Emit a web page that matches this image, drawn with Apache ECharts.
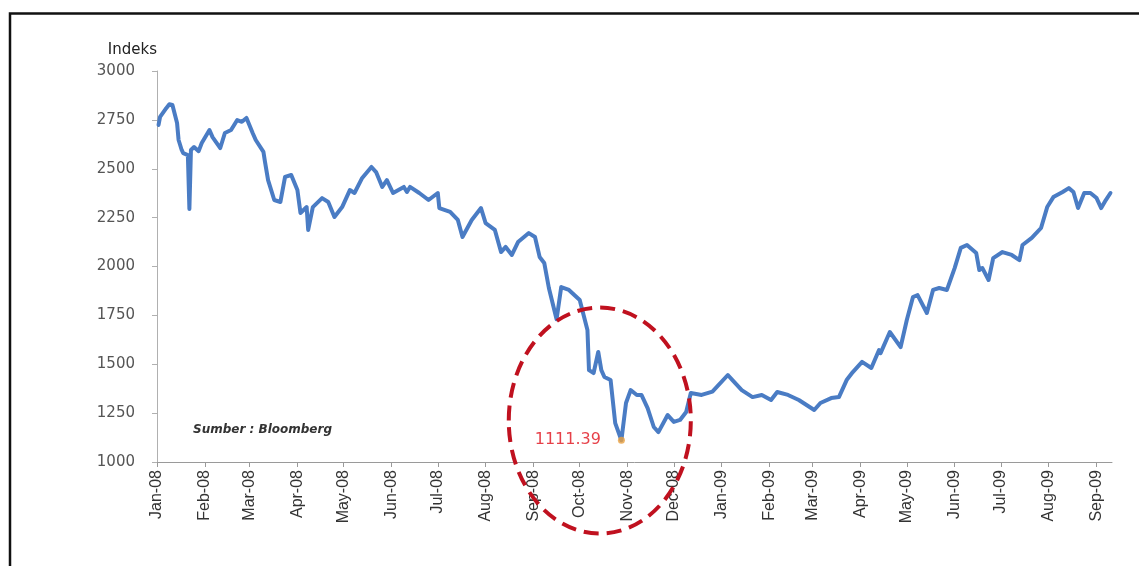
<!DOCTYPE html>
<html>
<head>
<meta charset="utf-8">
<title>Indeks</title>
<script src="https://cdn.jsdelivr.net/npm/echarts@6/dist/echarts.min.js"></script>
<style>
  html, body { margin: 0; padding: 0; background: #fff; }
  #chart { width: 1139px; height: 566px; }
</style>
</head>
<body>
<div id="chart"></div>
<script>
// Composite index, daily closes sampled (Jan 2008 - Sep 2009)
const dates = [
  '2008-01-02','2008-01-03','2008-01-07','2008-01-09','2008-01-11','2008-01-14','2008-01-15','2008-01-17','2008-01-18','2008-01-21',
  '2008-01-22','2008-01-23','2008-01-25','2008-01-28','2008-01-30','2008-02-04','2008-02-06','2008-02-11','2008-02-14','2008-02-18',
  '2008-02-22','2008-02-25','2008-02-28','2008-03-03','2008-03-05','2008-03-10','2008-03-11','2008-03-13','2008-03-17','2008-03-21',
  '2008-03-24','2008-03-28','2008-04-01','2008-04-03','2008-04-07','2008-04-08','2008-04-11','2008-04-17','2008-04-21','2008-04-25',
  '2008-04-30','2008-05-05','2008-05-08','2008-05-13','2008-05-19','2008-05-22','2008-05-26','2008-05-29','2008-06-02','2008-06-09',
  '2008-06-11','2008-06-13','2008-06-19','2008-06-25','2008-07-01','2008-07-02','2008-07-09','2008-07-14','2008-07-17','2008-07-23',
  '2008-07-29','2008-08-01','2008-08-07','2008-08-11','2008-08-14','2008-08-18','2008-08-22','2008-08-29','2008-09-02','2008-09-05',
  '2008-09-08','2008-09-11','2008-09-16','2008-09-19','2008-09-24','2008-10-01','2008-10-06','2008-10-07','2008-10-10','2008-10-13',
  '2008-10-15','2008-10-17','2008-10-21','2008-10-24','2008-10-28','2008-10-31','2008-11-03','2008-11-07','2008-11-10','2008-11-14',
  '2008-11-18','2008-11-21','2008-11-27','2008-12-01','2008-12-05','2008-12-09','2008-12-12','2008-12-19','2008-12-26','2009-01-05',
  '2009-01-08','2009-01-14','2009-01-21','2009-01-27','2009-02-02','2009-02-06','2009-02-13','2009-02-20','2009-03-02','2009-03-06',
  '2009-03-13','2009-03-18','2009-03-23','2009-03-27','2009-04-02','2009-04-08','2009-04-13','2009-04-14','2009-04-20','2009-04-27',
  '2009-05-01','2009-05-05','2009-05-08','2009-05-14','2009-05-18','2009-05-22','2009-05-27','2009-06-01','2009-06-05','2009-06-09',
  '2009-06-15','2009-06-17','2009-06-19','2009-06-23','2009-06-26','2009-07-02','2009-07-08','2009-07-13','2009-07-15','2009-07-21',
  '2009-07-27','2009-07-31','2009-08-04','2009-08-10','2009-08-14','2009-08-17','2009-08-20','2009-08-24','2009-08-28','2009-09-01',
  '2009-09-04','2009-09-07','2009-09-10'
];
const closes = [
  2724,2765,2810,2830,2826,2734,2647,2596,2580,2570,
  2294,2596,2611,2590,2632,2698,2662,2606,2683,2698,
  2749,2740,2760,2683,2647,2586,2535,2442,2340,2330,
  2458,2468,2391,2274,2304,2187,2304,2350,2330,2253,
  2304,2391,2376,2453,2509,2483,2407,2442,2376,2407,
  2381,2407,2376,2340,2376,2299,2279,2238,2151,2238,
  2299,2222,2187,2074,2100,2059,2125,2171,2151,2049,
  2018,1890,1730,1895,1880,1829,1675,1470,1455,1563,
  1470,1435,1419,1199,1111.39,1302,1368,1343,1343,1276,
  1179,1153,1240,1205,1215,1256,1353,1343,1360,1445,
  1419,1368,1332,1343,1317,1358,1343,1317,1266,1302,
  1327,1332,1419,1460,1512,1481,1573,1557,1665,1588,
  1726,1844,1854,1762,1880,1890,1880,1992,2095,2110,
  2069,1982,1992,1931,2043,2074,2059,2033,2110,2146,
  2197,2304,2355,2381,2401,2381,2299,2376,2376,2350,
  2299,2340,2376
];

// Lowest close, labelled on the chart
const lowDate = '2008-10-28';
const lowValue = 1111.39;

// Month ticks along the date axis
const tickDates = [
  '2008-01-01','2008-02-01','2008-03-01','2008-04-01','2008-05-01','2008-06-01','2008-07-01',
  '2008-08-01','2008-09-01','2008-10-01','2008-11-01','2008-12-01','2009-01-01','2009-02-01',
  '2009-03-01','2009-04-01','2009-05-01','2009-06-01','2009-07-01','2009-08-01','2009-09-01'
];
const tickLabels = [
  'Jan-08','Feb-08','Mar-08','Apr-08','May-08','Jun-08','Jul-08',
  'Aug-08','Sep-08','Oct-08','Nov-08','Dec-08','Jan-09','Feb-09',
  'Mar-09','Apr-09','May-09','Jun-09','Jul-09','Aug-09','Sep-09'
];
const yTicks = [1000, 1250, 1500, 1750, 2000, 2250, 2500, 2750, 3000];

const axisStart = '2008-01-01';
const axisEnd = '2009-09-11';

// Crisis ring: centre and half-extents in data terms
const ringCenterDate = '2008-10-14';
const ringCenterValue = 1212;
const ringHalfDays = 59;
const ringHalfValue = 578;

// Dates become day numbers counted from the first axis day
const DAY = 86400000;
const origin = Date.UTC(2008, 0, 1);
function dayNo(s) {
  const p = s.split('-').map(Number);
  return Math.round((Date.UTC(p[0], p[1] - 1, p[2]) - origin) / DAY);
}
const tickDays = tickDates.map(dayNo);
const lineData = dates.map((d, i) => [dayNo(d), closes[i]]);

const chart = echarts.init(document.getElementById('chart'), null, { renderer: 'canvas' });

const option = {
  backgroundColor: '#ffffff',
  animation: false,
  grid: { left: 157, right: 27, top: 71, bottom: 104, outerBoundsMode: 'none' },
  xAxis: {
    type: 'value',
    min: dayNo(axisStart),
    max: dayNo(axisEnd),
    axisLine: { show: true, onZero: false, lineStyle: { color: '#9a9a9a', width: 1 } },
    axisTick: { show: true, length: 5, lineStyle: { color: '#9a9a9a' }, customValues: tickDays },
    splitLine: { show: false },
    axisLabel: {
      customValues: tickDays,
      rotate: 90,
      margin: 8,
      fontFamily: 'Liberation Sans',
      fontSize: 16,
      color: '#333',
      formatter: function (v) {
        const i = tickDays.indexOf(v);
        return i >= 0 ? tickLabels[i] : '';
      }
    }
  },
  yAxis: {
    type: 'value',
    min: yTicks[0],
    max: yTicks[yTicks.length - 1],
    interval: 250,
    name: 'Indeks',
    nameLocation: 'end',
    nameGap: 13,
    nameTextStyle: {
      align: 'right',
      fontFamily: 'DejaVu Sans',
      fontSize: 15,
      color: '#222'
    },
    axisLine: { show: true, lineStyle: { color: '#b0b0b0', width: 1 } },
    axisTick: { show: true, length: 5, inside: false, lineStyle: { color: '#b0b0b0' } },
    splitLine: { show: false },
    axisLabel: {
      margin: 22,
      fontFamily: 'DejaVu Sans',
      fontSize: 15,
      color: '#555',
      formatter: function (v) { return String(v); }
    }
  },
  series: [
    {
      name: 'Indeks',
      type: 'line',
      data: lineData,
      showSymbol: false,
      symbol: 'none',
      lineStyle: { color: '#4A7CC4', width: 4, join: 'round', cap: 'round' },
      z: 3
    },
    {
      name: 'Terendah',
      type: 'scatter',
      data: [[dayNo(lowDate), lowValue]],
      symbol: 'circle',
      symbolSize: 7,
      itemStyle: { color: '#E8A040' },
      label: {
        show: true,
        position: 'left',
        distance: 17,
        fontFamily: 'DejaVu Sans',
        fontSize: 16,
        color: '#E0101A',
        formatter: function (p) { return p.value[1].toFixed(2); }
      },
      z: 4
    }
  ]
};
chart.setOption(option);

// Frame, source note and dashed ring placed after layout
const c = chart.convertToPixel({ gridIndex: 0 }, [dayNo(ringCenterDate), ringCenterValue]);
const e = chart.convertToPixel({ gridIndex: 0 }, [dayNo(ringCenterDate) + ringHalfDays, ringCenterValue + ringHalfValue]);
const rx = Math.abs(e[0] - c[0]);
const ry = Math.abs(c[1] - e[1]);

chart.setOption({
  graphic: [
    {
      type: 'rect',
      shape: { x: 10, y: 13.5, width: 1200, height: 600 },
      style: { fill: 'none', stroke: '#111', lineWidth: 2.5 },
      silent: true,
      z: 10
    },
    {
      type: 'text',
      left: 193,
      top: 424,
      style: {
        text: 'Sumber : Bloomberg',
        fontFamily: 'DejaVu Sans',
        fontStyle: 'italic',
        fontWeight: 'bold',
        fontSize: 12,
        fill: '#333'
      },
      z: 10
    },
    {
      type: 'ellipse',
      shape: { cx: c[0], cy: c[1], rx: rx, ry: ry },
      style: { fill: 'none', stroke: '#C0111F', lineWidth: 4, lineDash: [15, 8] },
      silent: true,
      z: 10
    }
  ]
});
</script>
</body>
</html>
